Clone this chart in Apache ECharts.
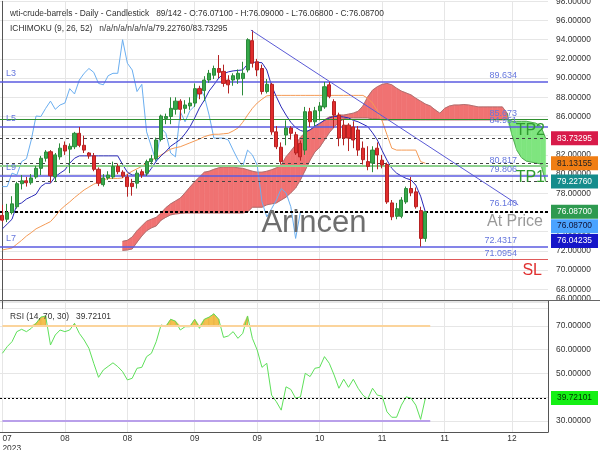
<!DOCTYPE html>
<html><head><meta charset="utf-8">
<script src="https://cdn.jsdelivr.net/npm/echarts@6/dist/echarts.min.js"></script>
<style>html,body{margin:0;padding:0;background:#fff}#c{width:600px;height:450px}</style>
</head><body><div id="c"></div>
<script>
// ---------- data ----------
const opens = [75.7,75.3,76.0,76.6,79.0,79.3,79.1,79.7,80.6,81.65,
82.33,79.7,81.8,83.0,82.6,82.85,84.25,83.0,82.2,81.9,
80.5,78.9,79.6,79.7,80.8,80.2,79.7,79.05,79.05,80.25,
80.1,81.3,81.6,83.6,85.8,86.0,86.75,87.6,86.85,87.1,
87.4,88.9,88.7,89.8,90.3,91.0,90.7,89.8,89.8,89.9,
89.95,90.85,93.9,91.7,91.0,88.6,89.35,84.4,82.8,84.07,
84.8,84.1,83.2,82.5,86.5,85.45,86.6,87.0,89.3,87.55,
86.15,85.1,85.1,84.9,84.6,82.7,81.3,81.15,82.7,81.45,
81.0,77.0,75.6,75.6,77.1,78.5,78.15,76.2,73.3];
const closes = [75.2,76.0,76.9,79.0,79.3,79.1,79.6,80.6,81.65,82.3,
79.83,82.0,82.7,82.4,82.9,84.25,83.0,82.5,81.9,80.5,
79.05,79.6,79.9,80.8,80.25,79.8,78.7,78.7,80.1,79.9,
81.3,81.6,83.55,86.05,86.0,86.85,87.6,86.75,87.2,87.4,
88.9,88.35,89.8,90.5,91.0,90.6,89.45,89.3,90.25,90.5,
90.5,94.0,91.55,90.85,88.6,89.35,84.4,82.85,81.3,84.8,
84.25,82.2,81.8,86.5,85.45,86.6,87.1,89.1,88.1,86.15,
83.75,83.75,83.75,83.55,82.5,81.5,80.8,82.5,82.0,80.95,
77.1,75.55,76.4,77.3,78.5,78.05,76.6,73.3,76.087];
const lows = [75.0,75.0,75.8,76.4,78.4,78.7,78.9,79.5,79.9,81.3,
79.1,79.2,81.5,82.0,80.1,82.6,82.8,82.2,81.6,80.3,
78.75,78.7,79.4,79.5,80.0,79.6,77.65,77.75,78.5,79.6,
79.8,81.0,81.4,83.4,85.2,85.2,86.2,85.6,86.3,86.7,
87.0,87.8,87.6,89.5,89.9,90.0,89.1,88.4,89.2,89.4,
88.2,90.6,91.1,90.2,88.3,88.4,84.1,82.6,81.0,83.0,
83.6,82.0,81.4,82.0,84.9,85.0,85.6,86.8,87.9,84.8,
82.9,83.0,82.4,82.7,81.9,81.0,80.4,80.2,80.5,80.6,
76.9,75.2,75.3,75.4,76.9,77.7,76.4,72.45,72.95];
const highs = [76.8,76.9,77.7,79.2,79.9,79.7,80.0,80.85,81.9,82.5,
82.5,82.2,83.2,83.4,83.2,84.4,84.9,84.0,82.3,82.2,
80.7,80.0,80.3,81.3,81.1,80.4,80.0,79.5,80.4,80.5,
81.5,82.0,83.8,86.2,86.3,88.0,88.0,87.8,87.7,88.0,
89.45,89.2,90.2,90.85,91.3,92.4,91.4,90.3,90.5,90.9,
91.7,94.15,95.0,92.0,91.4,89.9,89.5,85.0,83.3,85.6,
85.0,84.4,83.5,87.0,86.9,87.0,87.5,89.6,89.7,87.8,
86.4,85.7,85.3,85.5,85.0,83.4,82.9,82.9,83.3,82.0,
81.2,77.3,77.0,77.6,78.7,79.7,78.6,76.6,76.1];
const tenkan = [74.3,74.8,75.3,76.8,77.0,77.4,77.65,77.9,78.7,79.05,
79.05,79.73,80.1,80.43,81.13,81.65,81.9,81.9,81.9,81.9,
81.9,81.9,81.9,81.9,81.9,81.0,80.2,79.9,79.9,79.9,
79.9,80.6,81.35,81.9,82.35,82.9,83.25,83.6,84.2,84.9,
85.85,86.9,87.7,88.65,89.3,90.0,90.45,90.65,90.75,90.8,
90.85,91.45,91.65,91.65,91.6,90.85,89.2,88.05,87.0,86.15,
85.4,84.85,84.55,84.4,84.6,85.0,85.3,85.6,85.85,86.0,
86.0,85.95,85.85,85.6,85.45,85.2,84.95,84.3,83.55,82.45,
81.45,80.6,80.1,79.8,79.55,79.4,78.85,77.7,76.04];
const kijun = [72.1,72.2,72.3,72.7,73.1,73.55,73.9,74.3,74.55,74.8,
75.05,75.6,76.25,76.7,77.1,77.55,77.95,78.35,78.65,78.95,
79.2,79.4,79.55,79.55,79.55,79.6,80.0,80.3,80.55,80.8,
81.15,81.45,81.7,82.0,82.3,82.6,82.75,82.85,83.05,83.25,
83.45,83.65,83.9,84.05,84.15,84.15,84.2,84.25,84.5,84.8,
85.4,86.15,86.85,87.4,87.8,88.15,88.2,88.2,88.2,88.2,
88.2,88.2,88.2,88.2,88.2,88.2,88.2,88.2,88.2,88.2,
88.2,88.2,88.2,88.2,88.2,88.2,87.9,87.4,86.6,85.55,
84.1,82.7,82.5,82.5,82.5,82.5,82.5,81.3,81.13];
const chikouShift = 26;
const cloudStart = 25;
const spanA = [73.0,73.1,73.45,74.1,74.6,75.1,75.3,75.5,75.95,76.5,
76.9,77.2,77.5,78.05,78.65,79.2,79.7,80.2,80.3,80.5,
80.65,80.75,80.75,80.75,80.65,80.6,80.45,80.3,80.2,80.2,
80.3,80.45,80.65,80.95,81.8,82.4,83.05,83.85,84.3,84.6,
84.9,85.2,85.65,85.95,86.05,86.15,86.15,86.25,86.35,86.55,
87.1,88.05,88.75,89.1,89.35,89.45,89.3,88.95,88.65,88.45,
88.25,87.9,87.6,87.3,87.1,86.7,86.35,86.85,87.1,87.2,
87.2,87.25,87.2,87.1,87.0,87.0,87.0,87.0,87.0,87.0,
86.35,84.1,82.5,81.7,81.35,81.25,81.15,81.05,79.23];
const spanB = [72.05,72.1,72.2,72.9,73.55,74.1,74.4,74.6,75.2,75.5,
75.75,75.85,75.9,75.95,75.95,75.95,75.95,75.95,75.95,75.95,
75.95,75.95,75.95,75.95,75.95,75.95,76.05,76.55,76.55,76.55,
76.8,76.9,77.0,77.3,77.6,78.05,78.55,79.4,80.4,81.45,
82.3,82.8,83.55,84.3,84.9,85.4,85.75,85.85,85.85,85.85,
85.85,85.85,85.75,85.75,85.65,85.65,85.65,85.65,85.65,85.65,
85.65,85.65,85.65,85.65,85.65,85.65,85.65,85.65,85.65,85.65,
85.65,85.65,85.65,85.65,85.65,85.65,85.65,85.65,85.65,85.65,
85.75,85.5,85.5,85.5,85.5,85.4,85.3,85.0,83.73];
const rsi = [58.5,61.3,63.4,67.6,68.6,67.6,69.0,71.1,73.7,74.2,
62.0,66.2,68.3,67.6,68.3,71.1,66.9,64.1,60.6,54.3,
48.4,51.5,53.0,54.5,52.9,50.8,47.3,48.0,52.2,52.6,
57.1,58.5,63.4,70.4,69.7,72.8,72.0,68.3,69.7,69.7,
72.8,69.0,72.8,73.7,75.1,72.8,65.2,65.8,67.6,64.8,
66.9,74.2,64.8,59.9,52.6,54.3,40.9,38.1,34.6,44.4,
43.3,39.6,40.2,50.1,48.7,52.2,52.6,57.1,54.3,49.4,
43.8,47.6,44.2,47.6,43.8,40.9,39.3,43.8,40.9,40.5,
33.9,31.6,31.6,36.7,40.2,39.6,36.7,30.7,39.72];
const rsiUpper = 70, rsiLower = 30, rsiLast = 39.72101;
const trendX = [51.7, 107.3];
const trendY = [95.0, 76.8];
const levelNames = ['L3','L5','L9','L7'];
const levelValues = [89.634, 84.951, 79.806, 72.4317];
const tpNames = ['TP2','TP1'];
const tpValues = [85.673, 80.817];
const slValue = 71.0954;
const spanBLast = 83.73295, kijunLast = 81.13155, spanALast = 79.2276;
const lastPrice = 76.087, chikouLast = 76.087, tenkanLast = 76.04235;
const trendLabel = '76.140';
const slotCount = 114;
const xTickIdx = [0,13,26,40,53,66,79,92,106];
const xTickLabels = ['07\n2023','08','08','09','09','10','11','11','12'];
const titleMain = 'wti-crude-barrels - Daily - Candlestick   89/142 - O:76.07100 - H:76.09000 - L:76.06800 - C:76.08700';
const titleIchi = 'ICHIMOKU (9, 26, 52)   n/a/n/a/n/a/n/a/79.22760/83.73295';
const titleRsi = 'RSI (14, 70, 30)   39.72101';

// ---------- chart ----------
const FONT = "'Liberation Sans', Arial, sans-serif";
const FS = 8.4;
const cats = Array.from({length: slotCount}, (_, i) => String(i));
const tickSet = new Set(xTickIdx);
const tickFn = (idx) => tickSet.has(idx);
const candleData = opens.map((o, i) => [o, closes[i], lows[i], highs[i]]);
const chikou = cats.map((_, i) => (i + chikouShift < closes.length) ? closes[i + chikouShift] : null);

const RED = '#f07272', GREEN = '#7fe57f';
const RED_EDGE = '#9a6b6b', GREEN_EDGE = '#3f9a3f';
function cloudItem(params, api) {
  const k = params.dataIndex;
  if (k >= spanA.length - 1) return null;
  const x0 = k + cloudStart, x1 = x0 + 1;
  const a0 = spanA[k], b0 = spanB[k], a1 = spanA[k + 1], b1 = spanB[k + 1];
  const d0 = a0 - b0, d1 = a1 - b1;
  const P = (x, y) => api.coord([x, y]);
  const poly = (pts, col) => ({type: 'polygon', shape: {points: pts}, style: {fill: col, stroke: col, lineWidth: 0.6}});
  const edge = (p, q, col) => ({type: 'line', shape: {x1: p[0], y1: p[1], x2: q[0], y2: q[1]}, style: {stroke: col, lineWidth: 0.8}});
  const ch = [];
  if (d0 * d1 >= 0) {
    const up = (d0 + d1) >= 0;
    ch.push(poly([P(x0, a0), P(x1, a1), P(x1, b1), P(x0, b0)], up ? RED : GREEN));
    ch.push(edge(P(x0, a0), P(x1, a1), up ? RED_EDGE : GREEN_EDGE));
    ch.push(edge(P(x0, b0), P(x1, b1), up ? RED_EDGE : GREEN_EDGE));
  } else {
    const t = d0 / (d0 - d1);
    const xc = x0 + t, yc = a0 + t * (a1 - a0);
    ch.push(poly([P(x0, a0), P(xc, yc), P(x0, b0)], d0 > 0 ? RED : GREEN));
    ch.push(poly([P(xc, yc), P(x1, a1), P(x1, b1)], d1 > 0 ? RED : GREEN));
    ch.push(edge(P(x0, a0), P(x1, a1), GREEN_EDGE));
    ch.push(edge(P(x0, b0), P(x1, b1), GREEN_EDGE));
  }
  return {type: 'group', children: ch};
}
function rsiFillItem(params, api) {
  const i = params.dataIndex;
  if (i >= rsi.length - 1) return null;
  const r0 = rsi[i], r1 = rsi[i + 1], L = rsiUpper;
  if (r0 <= L && r1 <= L) return null;
  const P = (x, y) => api.coord([x, y]);
  let pts;
  if (r0 >= L && r1 >= L) pts = [P(i, L), P(i, r0), P(i + 1, r1), P(i + 1, L)];
  else if (r0 > L) { const t = (r0 - L) / (r0 - r1); pts = [P(i, L), P(i, r0), P(i + t, L)]; }
  else { const t = (L - r0) / (r1 - r0); pts = [P(i + t, L), P(i + 1, r1), P(i + 1, L)]; }
  return {type: 'polygon', shape: {points: pts}, style: {fill: '#f4c04e', stroke: '#e2a83a', lineWidth: 0.5}};
}

const cloudCats = spanA.map((a, k) => [k + cloudStart, a, spanB[k]]);

const hl = (v, color, width, type) => ({yAxis: v, lineStyle: {color, width, type: type || 'solid'}});
const mainLines = [
  ...levelValues.map(v => hl(v, '#5b5be0', 1.5)),
  hl(tpValues[0], '#2f8f2f', 1),
  hl(tpValues[1], '#8ed08e', 2),
  hl(slValue, '#e05a5a', 1),
  hl(spanBLast, '#444', 1, [3, 3]),
  hl(kijunLast, '#444', 1, [3, 3]),
  hl(spanALast, '#444', 1, [3, 3]),
  hl(lastPrice, '#000', 2, [3, 2])
];

const option = {
  animation: false,
  backgroundColor: '#fff',
  textStyle: {fontFamily: FONT},
  title: [
    {text: titleMain, left: 5, top: 5, textStyle: {fontSize: FS, fontWeight: 'normal', color: '#333', fontFamily: FONT}},
    {text: titleIchi, left: 5, top: 20, textStyle: {fontSize: FS, fontWeight: 'normal', color: '#333', fontFamily: FONT}},
    {text: titleRsi, left: 5, top: 308, textStyle: {fontSize: FS, fontWeight: 'normal', color: '#333', fontFamily: FONT}}
  ],
  grid: [
    {left: 0, top: 1.3, width: 548, height: 307.2, outerBoundsMode: 'none', containLabel: false},
    {left: 0, top: 301, width: 548, height: 131, outerBoundsMode: 'none', containLabel: false}
  ],
  xAxis: [
    {type: 'category', gridIndex: 0, data: cats, boundaryGap: true,
     axisLine: {show: false}, axisTick: {show: false}, axisLabel: {show: false},
     splitLine: {show: true, interval: tickFn, alignWithLabel: true, lineStyle: {color: '#e6e6e6'}}},
    {type: 'category', gridIndex: 1, data: cats, boundaryGap: true,
     axisLine: {show: true, lineStyle: {color: '#555'}}, axisTick: {show: false},
     axisLabel: {interval: tickFn, formatter: (v, idx) => xTickLabels[xTickIdx.indexOf(idx)] || '',
       fontSize: FS, color: '#333', margin: 2, alignMinLabel: 'left', lineHeight: 10, fontFamily: FONT},
     splitLine: {show: true, interval: tickFn, alignWithLabel: true, lineStyle: {color: '#e6e6e6'}}},
    {type: 'value', gridIndex: 0, min: -0.5, max: slotCount - 0.5, show: false}
  ],
  yAxis: [
    {type: 'value', gridIndex: 0, position: 'right', min: 66, max: 98, interval: 2,
     axisLine: {show: true, lineStyle: {color: '#555'}}, axisTick: {show: false},
     axisLabel: {fontSize: FS, color: '#333', margin: 8, fontFamily: FONT, showMinLabel: true, showMaxLabel: true,
       formatter: v => v === 66 ? '{lo|66.00000}' : v.toFixed(5),
       rich: {lo: {fontSize: FS, color: '#333', padding: [0, 0, 19, 0]}}},
     splitLine: {show: true, lineStyle: {color: '#e6e6e6'}}},
    {type: 'value', gridIndex: 1, position: 'right', min: 25.4, max: 80.5,
     axisLine: {show: true, lineStyle: {color: '#555'}}, axisTick: {show: false},
     axisLabel: {fontSize: FS, color: '#333', margin: 8, fontFamily: FONT,
       formatter: v => (Math.abs(v % 10) < 1e-6 && v >= 30 && v <= 70) ? v.toFixed(5) : ''},
     splitLine: {show: true, lineStyle: {color: '#e6e6e6'}}}
  ],
  series: [
    {type: 'custom', name: 'cloud', xAxisIndex: 0, yAxisIndex: 0, data: cloudCats, encode: {x: 0, y: [1, 2]},
     renderItem: cloudItem, clip: true, z: 1, silent: true},
    {type: 'line', name: 'levels', xAxisIndex: 0, yAxisIndex: 0, data: [], z: 3, silent: true,
     markLine: {silent: true, symbol: 'none', label: {show: false}, data: mainLines, animation: false}},
    {type: 'line', name: 'chikou', xAxisIndex: 0, yAxisIndex: 0, data: chikou, symbol: 'none',
     lineStyle: {color: '#6aaef0', width: 1}, z: 4, silent: true},
    {type: 'line', name: 'kijun', xAxisIndex: 0, yAxisIndex: 0, data: kijun, symbol: 'none',
     lineStyle: {color: '#f59a55', width: 1}, z: 4, silent: true},
    {type: 'line', name: 'tenkan', xAxisIndex: 0, yAxisIndex: 0, data: tenkan, symbol: 'none',
     lineStyle: {color: '#2a2ab8', width: 1}, z: 4, silent: true},
    {type: 'candlestick', name: 'price', xAxisIndex: 0, yAxisIndex: 0, data: candleData, barWidth: 3.6, z: 5, silent: true,
     itemStyle: {color: '#36a84a', color0: '#e12d2d', borderColor: '#2c8a3a', borderColor0: '#b52222', borderWidth: 1}},
    {type: 'line', name: 'trend', xAxisIndex: 2, yAxisIndex: 0, data: trendX.map((x, i) => [x, trendY[i]]), symbol: 'none',
     lineStyle: {color: '#5a5ad6', width: 1}, z: 6, silent: true},
    {type: 'custom', name: 'rsiFill', xAxisIndex: 1, yAxisIndex: 1, data: rsi.map((r, i) => [i, r]), encode: {x: 0, y: 1},
     renderItem: rsiFillItem, z: 1, silent: true},
    {type: 'line', name: 'rsi', xAxisIndex: 1, yAxisIndex: 1, data: rsi, symbol: 'none',
     lineStyle: {color: '#5ee05a', width: 1}, z: 3, silent: true,
     markLine: {silent: true, symbol: 'none', label: {show: false}, animation: false, data: [
       [{coord: [0, rsiUpper], lineStyle: {color: '#fbd49c', width: 2, type: 'solid'}}, {coord: [rsi.length, rsiUpper]}],
       [{coord: [0, rsiLower], lineStyle: {color: '#b9a0ea', width: 2, type: 'solid'}}, {coord: [rsi.length, rsiLower]}],
       {yAxis: rsiLast, lineStyle: {color: '#000', width: 1, type: [2, 2]}}
     ]}}
  ]
};

const chart = echarts.init(document.getElementById('c'), null, {renderer: 'canvas', width: 600, height: 450});
chart.setOption(option);

const yM = v => chart.convertToPixel({yAxisIndex: 0}, v);
const yR = v => chart.convertToPixel({yAxisIndex: 1}, v);
const xT = v => chart.convertToPixel({xAxisIndex: 2}, v);
const g = [];
function text(x, y, s, color, size, align, extra) {
  g.push(Object.assign({type: 'text', x, y, z: 50, silent: true,
    style: {text: s, fill: color, font: size + 'px ' + FONT, align: align || 'left', verticalAlign: 'middle',
            textAlign: align || 'left', textVerticalAlign: 'middle'}}, extra || {}));
}
function tag(y, s, bg, fg) {
  g.push({type: 'rect', z: 60, silent: true, shape: {x: 551, y: y - 7, width: 47, height: 14}, style: {fill: bg}});
  text(574.5, y, s, fg, FS, 'center', {z: 61});
}
// separator between panes
g.push({type: 'line', z: 40, silent: true, shape: {x1: 0, y1: 300.5, x2: 600, y2: 300.5}, style: {stroke: '#666', lineWidth: 1}});
g.push({type: 'rect', z: 39, silent: true, shape: {x: 549, y: 301, width: 51, height: 8}, style: {fill: '#fff'}});
// level labels
levelNames.forEach((n, i) => text(6, yM(levelValues[i]) - 8, n, '#6677dd', FS + 0.6, 'left'));
const valLabels = [levelValues[0], tpValues[0], levelValues[1], tpValues[1], levelValues[2], levelValues[3], slValue];
const valTexts = ['89.634', '85.673', '84.951', '80.817', '79.806', '72.4317', '71.0954'];
valLabels.forEach((v, i) => text(517, yM(v) - 6, valTexts[i], '#6677dd', FS + 0.6, 'right'));
text(517, yM(trendY[1]) - 1, trendLabel, '#6677dd', FS + 0.6, 'right');
tpNames.forEach((n, i) => text(545, yM(tpValues[i]) + 11, n, '#2f9a2f', 16, 'right'));
text(542, yM(slValue) + 11, 'SL', '#e03030', 16, 'right');
text(543, yM(lastPrice) + 10, 'At Price', '#999', 16, 'right');
text(314, yM(lastPrice) + 12, 'Arincen', '#6e6e6e', 31, 'center', {z: 45});
text(xT(trendX[0]) + 9, yM(trendY[0]) + 1, 'L4', '#6677dd', FS + 0.6, 'left', {rotation: -0.45, originX: xT(trendX[0]) + 9, originY: yM(trendY[0]) + 1});
// right-axis value tags
tag(yM(spanBLast), '83.73295', '#d81b4a', '#fff');
tag(yM(kijunLast), '81.13155', '#f07e14', '#222');
tag(yM(spanALast), '79.22760', '#158c8c', '#fff');
tag(yM(lastPrice), '76.08700', '#2e9a50', '#fff');
tag(yM(chikouLast) + 14.5, '76.08700', '#4aa3ff', '#113');
tag(yM(tenkanLast) + 29, '76.04235', '#1616c8', '#fff');
tag(yR(rsiLast), '39.72101', '#14f014', '#030');
chart.setOption({graphic: g});
</script>
</body></html>
